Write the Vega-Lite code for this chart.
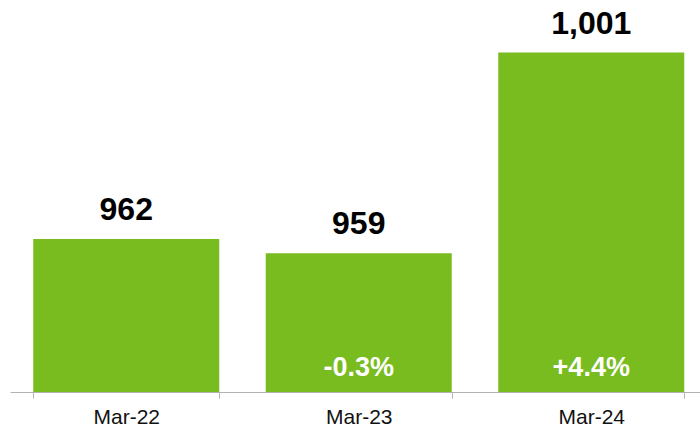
{
  "$schema": "https://vega.github.io/schema/vega-lite/v6.json",
  "width": 690,
  "height": 392,
  "padding": {"left": 10, "top": 0, "right": 0, "bottom": 39},
  "autosize": {"type": "none"},
  "config": {"view": {"stroke": null}, "font": "Liberation Sans"},
  "data": {
    "values": [
      {"period": "Mar-22", "value": 962, "change": null},
      {"period": "Mar-23", "value": 959, "change": "-0.3%"},
      {"period": "Mar-24", "value": 1001, "change": "+4.4%"}
    ]
  },
  "encoding": {
    "x": {
      "field": "period",
      "type": "nominal",
      "sort": null,
      "scale": {"paddingInner": 0.2, "paddingOuter": 0.1, "range": [0, 697.5]},
      "axis": {
        "title": null,
        "labelAngle": 0,
        "domainColor": "#b3b3b3",
        "tickColor": "#b3b3b3",
        "tickSize": 6,
        "tickBand": "extent",
        "labelFontSize": 21,
        "labelColor": "#111111",
        "labelFont": "Liberation Sans",
        "labelPadding": 8
      }
    }
  },
  "layer": [
    {
      "mark": {"type": "bar", "color": "#78bc20"},
      "encoding": {
        "y": {"field": "value", "type": "quantitative", "scale": {"domain": [930, 1012], "zero": false, "nice": false}, "axis": null},
        "y2": {"datum": 930}
      }
    },
    {
      "mark": {"type": "text", "fontSize": 32, "fontWeight": "bold", "dy": -19, "baseline": "alphabetic", "color": "#000000"},
      "encoding": {
        "y": {"field": "value", "type": "quantitative"},
        "text": {"field": "value", "type": "quantitative", "format": ","}
      }
    },
    {
      "transform": [{"filter": "datum.change != null"}],
      "mark": {"type": "text", "fontSize": 27, "fontWeight": "bold", "dy": -16, "baseline": "alphabetic", "color": "#ffffff"},
      "encoding": {
        "y": {"datum": 930, "type": "quantitative"},
        "text": {"field": "change", "type": "nominal"}
      }
    }
  ]
}
